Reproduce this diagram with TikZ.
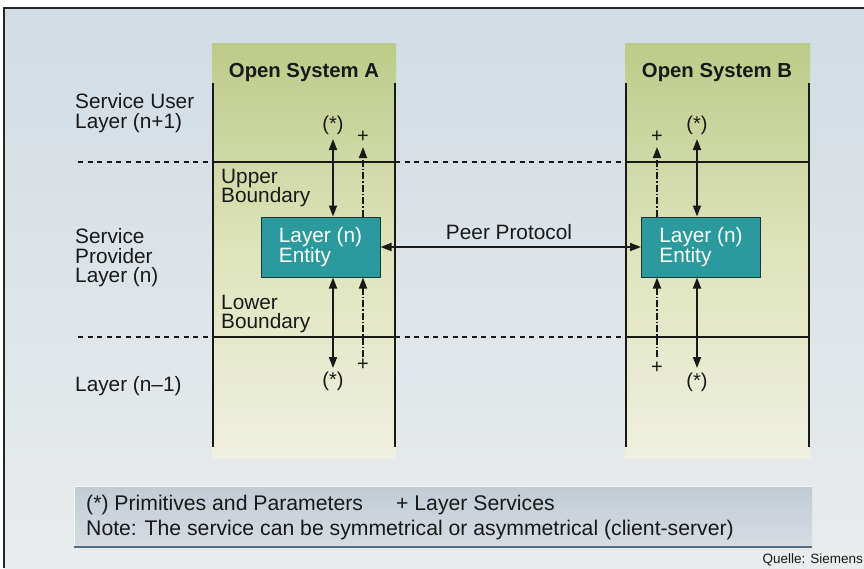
\documentclass[tikz,border=0pt]{standalone}
\usepackage{fontspec}
\setmainfont{Liberation Sans}
\usetikzlibrary{arrows.meta}
\definecolor{bgtop}{RGB}{210,220,228}
\definecolor{bgbot}{RGB}{233,236,237}
\definecolor{gtop}{RGB}{188,203,136}
\definecolor{gmid}{RGB}{222,228,188}
\definecolor{gbot}{RGB}{239,240,224}
\definecolor{entfill}{RGB}{42,154,157}
\definecolor{entline}{RGB}{25,55,55}
\definecolor{legtop}{RGB}{194,203,212}
\definecolor{legbot}{RGB}{214,220,226}
\definecolor{legedge}{RGB}{80,112,135}
\definecolor{ink}{RGB}{25,25,25}
\tikzset{
  lbl/.style={inner sep=0pt, align=left, text=ink, font=\fontsize{20.8}{19.5}\selectfont},
  ttl/.style={inner sep=0pt, text=ink, font=\bfseries\fontsize{20.3}{20}\selectfont},
  symlbl/.style={inner sep=0pt, text=ink, font=\fontsize{20}{20}\selectfont},
  pluslbl/.style={inner sep=0pt, text=ink, font=\fontsize{20}{20}\selectfont},
  vline/.style={line width=1.8pt, ink},
  hsolid/.style={line width=1.8pt, ink},
  hdash/.style={line width=2.2pt, ink, dash pattern=on 5pt off 4.6pt},
  entity/.style={rectangle, draw=entline, line width=1pt, fill=entfill,
    minimum width=119pt, minimum height=60pt, inner sep=0pt, align=left,
    text=white, font=\fontsize{20.8}{19}\selectfont},
  dbl/.style={line width=1.8pt, ink, {Triangle[length=11pt,width=8pt]}-{Triangle[length=11pt,width=8pt]}},
  dd/.style={line width=1.8pt, ink, dash pattern=on 7pt off 2pt on 1.5pt off 2pt, -{Triangle[length=11pt,width=8pt]}},
  legtxt/.style={inner sep=0pt, text=ink, font=\fontsize{21.2}{21}\selectfont},
}
\begin{document}
\begin{tikzpicture}[x=1pt,y=-1pt]
\useasboundingbox (0,0) rectangle (864,568);
\fill[white] (0,0) rectangle (864,568);
% background
\shade[top color=bgtop, bottom color=bgbot] (4,8) rectangle (864,568);
\draw[line width=1.8pt, black!85] (4,568) -- (4,8) -- (864,8);
% green columns
\shade[top color=gtop, bottom color=gbot, middle color=gmid] (212,43) rectangle (396,458);
\shade[top color=gtop, bottom color=gbot, middle color=gmid] (625,43) rectangle (810,458);
% vertical system lines
\foreach \x in {213,395,626,809} \draw[vline] (\x,83) -- (\x,447);
% boundaries
\foreach \y in {162,337} {
  \draw[hdash] (78,\y) -- (213,\y);
  \draw[hsolid] (213,\y) -- (395,\y);
  \draw[hdash] (395,\y) -- (626,\y);
  \draw[hsolid] (626,\y) -- (809,\y);
}
% titles
\node[ttl] (tA) at (304,72.5) {Open System A};
\node[ttl] (tB) at (717,72.5) {Open System B};
% left labels
\node[lbl, anchor=west] (su) at (75,113) {Service User\\Layer (n+1)};
\node[lbl, anchor=west] (sp) at (75,258) {Service\\Provider\\Layer (n)};
\node[lbl, anchor=west] (ln) at (75,386) {Layer (n–1)};
\node[lbl, anchor=west] (ub) at (221,188) {Upper\\Boundary};
\node[lbl, anchor=west] (lb) at (221,314) {Lower\\Boundary};
% entities
\node[entity] (entA) at (320.5,247) {Layer (n)\\Entity};
\node[entity] (entB) at (701,247) {Layer (n)\\Entity};
% peer protocol
\draw[dbl] (entA.east) -- (entB.west);
\node[lbl] (pp) at (509,232) {Peer Protocol};
% arrows system A
\coordinate (aTs) at (333,139);
\coordinate (aTd) at (363,147);
\coordinate (aBs) at (333,368);
\coordinate (aBd) at (363,357);
\draw[dbl] (aTs) -- (aTs |- entA.north);
\draw[dd] (aTd |- entA.north) -- (aTd);
\draw[dbl] (aBs |- entA.south) -- (aBs);
\draw[dd] (aBd) -- (aBd |- entA.south);
\node[symlbl] (sAt) at (333,125) {(*)};
\node[pluslbl] (pAt) at (363,137) {+};
\node[symlbl] (sAb) at (333,381) {(*)};
\node[pluslbl] (pAb) at (363,365) {+};
% arrows system B
\coordinate (bTs) at (697,139);
\coordinate (bTd) at (657,147);
\coordinate (bBs) at (697,368);
\coordinate (bBd) at (657,357);
\draw[dbl] (bTs) -- (bTs |- entB.north);
\draw[dd] (bTd |- entB.north) -- (bTd);
\draw[dbl] (bBs |- entB.south) -- (bBs);
\draw[dd] (bBd) -- (bBd |- entB.south);
\node[symlbl] (sBt) at (697,125) {(*)};
\node[pluslbl] (pBt) at (657,137) {+};
\node[symlbl] (sBb) at (697,382) {(*)};
\node[pluslbl] (pBb) at (657,368) {+};
% legend
\shade[top color=legtop, bottom color=legbot] (74,486) rectangle (812,547);
\draw[line width=0.6pt, white!85!legtop] (74,547) -- (74,486) -- (812,486);
\draw[line width=2pt, legedge] (74,547) -- (812,547);
\node[legtxt, anchor=base west] (l1) at (86,510) {(*) Primitives and Parameters};
\node[legtxt, anchor=base west] (l2) at (396,510) {+ Layer Services};
\node[legtxt, anchor=base west] (l3) at (86,535) {Note: The service can be symmetrical or asymmetrical (client-server)};
\node[inner sep=0pt, anchor=base east, text=ink, font=\fontsize{13.5}{13.5}\selectfont] (src) at (863,563) {Quelle: Siemens};
\end{tikzpicture}
\end{document}
